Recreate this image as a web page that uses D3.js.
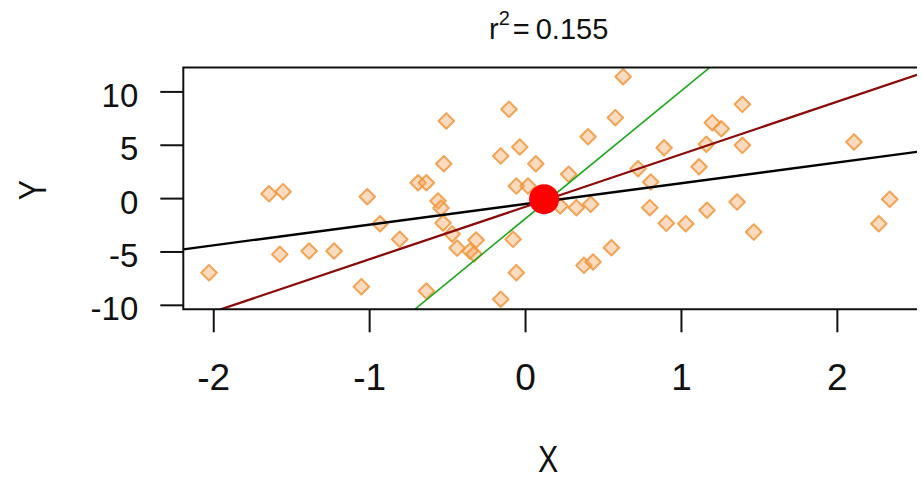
<!DOCTYPE html>
<html>
<head>
<meta charset="utf-8">
<script src="https://cdn.jsdelivr.net/npm/d3@7"></script>
<style>
  html, body { margin: 0; padding: 0; background: #fff; }
  text { font-family: "Liberation Sans", Arial, sans-serif; fill: #111; }
</style>
</head>
<body>
<svg id="chart" width="922" height="480"></svg>
<script>
// values
const xVals = [-2.027, -1.642, -1.552, -1.573, -1.385, -1.225, -1.012, -0.930, -0.804, -1.050,
  -0.686, -0.633, -0.633, -0.505, -0.521, -0.558, -0.539, -0.526, -0.468, -0.436,
  -0.353, -0.327, -0.314, -0.103, -0.156, -0.034, 0.069, -0.077, -0.056, -0.156,
  -0.056, 0.019, 0.629, 0.579, 0.404, 0.892, 0.280, 0.725, 0.806, 0.225,
  0.329, 0.421, 0.800, 0.906, 0.554, 0.378, 0.436, 1.394, 1.201, 1.259,
  1.163, 1.394, 1.116, 1.360, 1.167, 1.031, 1.467, 2.110, 2.339, 2.269];
const yVals = [-6.99, 0.41, 0.60, -5.27, -4.96, -4.96, 0.13, -2.40, -3.86, -8.30,
  1.44, 1.44, -8.71, 7.23, 3.22, -0.27, -0.93, -2.33, -3.36, -4.68,
  -4.96, -5.24, -3.93, 8.32, 3.95, 4.79, 3.22, -3.86, -6.99, -9.48,
  1.13, 1.13, 11.38, 7.54, 5.75, 4.72, 2.23, 2.76, 1.51, -0.74,
  -0.90, -0.58, -0.90, -2.36, -4.65, -6.30, -5.99, 8.79, 7.07, 6.50,
  5.04, 4.95, 2.94, -0.37, -1.14, -2.40, -3.18, 5.26, -0.11, -2.40];

const centre = [0.122, -0.1];
const lineSlopes = [1.94, 4.92, 11.98];
const lineIntercepts = [-0.55, -0.82, -1.95];
const lineColors = ["#000000", "#8b0a0a", "#1fa61f"];
const lineWidths = [2.3, 2.3, 1.6];

const xTicks = [-2, -1, 0, 1, 2];
const yTicks = [-10, -5, 0, 5, 10];
const titleValue = "0.155";

const pLeft = 183.3, pTop = 67.5, pRight = 917, pBottom = 309.3;

const svg = d3.select("#chart");

const x = d3.scaleLinear().domain([-2.192, 2.514]).range([pLeft, pRight]);
const y = d3.scaleLinear().domain([-10.42, 12.24]).range([pBottom, pTop]);

svg.append("clipPath").attr("id", "plotclip")
  .append("rect")
  .attr("x", pLeft).attr("y", pTop)
  .attr("width", pRight - pLeft).attr("height", pBottom - pTop);

const plot = svg.append("g").attr("clip-path", "url(#plotclip)");

// points
const diamond = r => `M0,${-r}L${r},0L0,${r}L${-r},0Z`;
plot.selectAll("path.pt")
  .data(xVals.map((v, i) => [v, yVals[i]]))
  .enter()
  .append("path")
  .attr("class", "pt")
  .attr("d", diamond(7.8))
  .attr("transform", d => "translate(" + x(d[0]) + "," + y(d[1]) + ")")
  .attr("fill", "rgba(244,164,96,0.4)")
  .attr("stroke", "rgba(240,150,60,0.85)")
  .attr("stroke-width", 2)
  .attr("stroke-linejoin", "round");

// fitted lines
const xs = x.domain();
plot.selectAll("line.fit")
  .data(lineSlopes)
  .enter()
  .append("line")
  .attr("class", "fit")
  .attr("x1", x(xs[0]))
  .attr("y1", (b, i) => y(lineIntercepts[i] + b * xs[0]))
  .attr("x2", x(xs[1]))
  .attr("y2", (b, i) => y(lineIntercepts[i] + b * xs[1]))
  .attr("stroke", (b, i) => lineColors[i])
  .attr("stroke-width", (b, i) => lineWidths[i]);

// centre point
plot.append("circle")
  .attr("cx", x(centre[0]))
  .attr("cy", y(centre[1]))
  .attr("r", 15)
  .attr("fill", "#ff0000");

// box (right side cut off in the picture)
svg.append("path")
  .attr("d", `M${pRight},${pTop}H${pLeft}V${pBottom}H${pRight}`)
  .attr("fill", "none")
  .attr("stroke", "#111")
  .attr("stroke-width", 2);

// y axis
const yAxis = svg.append("g")
  .attr("transform", "translate(" + pLeft + ",0)")
  .call(d3.axisLeft(y).tickValues(yTicks).tickSize(23).tickPadding(0).tickFormat(d => String(d)));
yAxis.select(".domain").remove();
yAxis.selectAll(".tick line").attr("stroke", "#111").attr("stroke-width", 2);
yAxis.selectAll(".tick text")
  .attr("x", -45)
  .attr("dy", null)
  .attr("y", 15)
  .style("font-size", "33px")
  .attr("fill", "#111");

// x axis
const xAxis = svg.append("g")
  .attr("transform", "translate(0," + pBottom + ")")
  .call(d3.axisBottom(x).tickValues(xTicks).tickSize(23).tickPadding(0).tickFormat(d => String(d)));
xAxis.select(".domain").remove();
xAxis.selectAll(".tick line").attr("stroke", "#111").attr("stroke-width", 2);
xAxis.selectAll(".tick text")
  .attr("dy", null)
  .attr("y", 81)
  .style("font-size", "37px")
  .attr("fill", "#111");

// axis titles
svg.append("text")
  .attr("transform", "translate(548,472) scale(0.82,1)")
  .attr("text-anchor", "middle")
  .style("font-size", "37px")
  .text("X");

svg.append("text")
  .attr("transform", "translate(46,190) rotate(-90) scale(0.8,1)")
  .attr("text-anchor", "middle")
  .style("font-size", "38px")
  .text("Y");

// title
const title = svg.append("text")
  .attr("x", 489)
  .attr("y", 39)
  .style("font-size", "29px");
title.append("tspan").text("r");
title.append("tspan").attr("dy", -14).style("font-size", "20px").text("2");
title.append("tspan").attr("dy", 14).attr("dx", 3).text("=");
title.append("tspan").attr("dx", 6).text(titleValue);
</script>
</body>
</html>
